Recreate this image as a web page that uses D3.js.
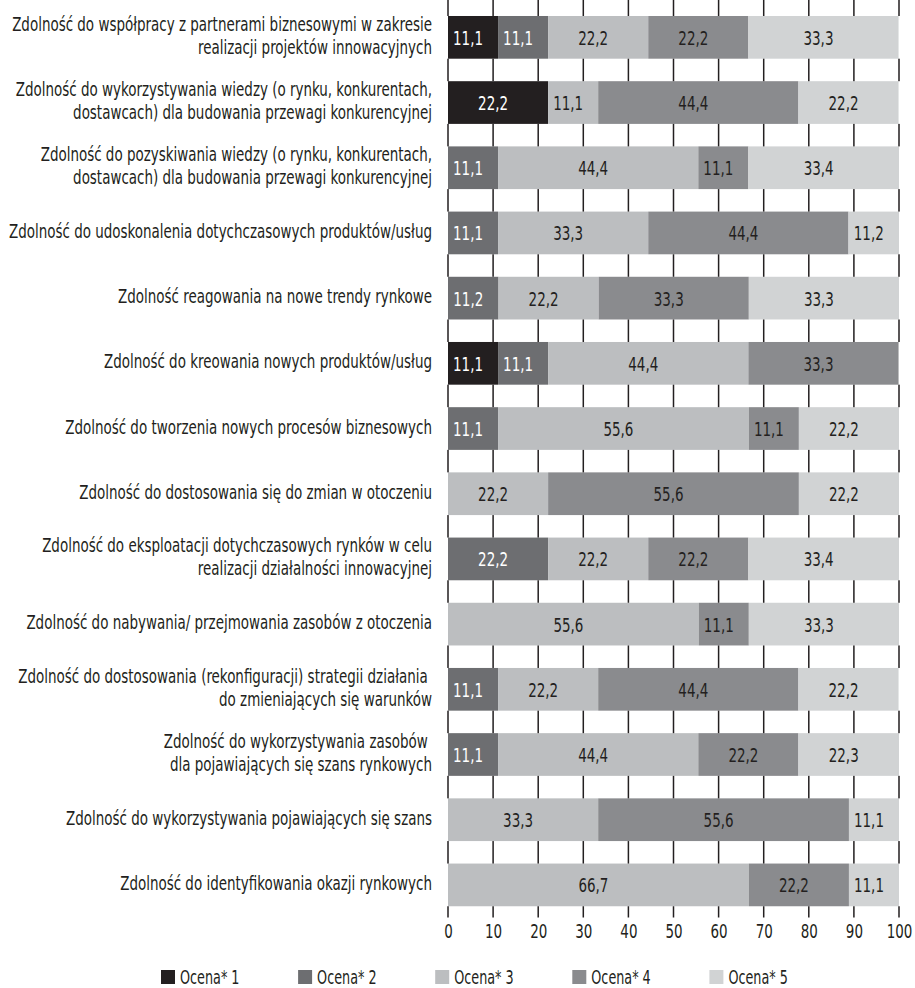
<!DOCTYPE html>
<html>
<head>
<meta charset="utf-8">
<title>Zdolności</title>
<script src="https://d3js.org/d3.v7.min.js"></script>
</head>
<body style="margin:0">
<script>
// categories, top to bottom ("\n" = line break)
var categories = [
  "Zdolność do współpracy z partnerami biznesowymi w zakresie\nrealizacji projektów innowacyjnych",
  "Zdolność do wykorzystywania wiedzy (o rynku, konkurentach,\ndostawcach) dla budowania przewagi konkurencyjnej",
  "Zdolność do pozyskiwania wiedzy (o rynku, konkurentach,\ndostawcach) dla budowania przewagi konkurencyjnej",
  "Zdolność do udoskonalenia dotychczasowych produktów/usług",
  "Zdolność reagowania na nowe trendy rynkowe",
  "Zdolność do kreowania nowych produktów/usług",
  "Zdolność do tworzenia nowych procesów biznesowych",
  "Zdolność do dostosowania się do zmian w otoczeniu",
  "Zdolność do eksploatacji dotychczasowych rynków w celu\nrealizacji działalności innowacyjnej",
  "Zdolność do nabywania/ przejmowania zasobów z otoczenia",
  "Zdolność do dostosowania (rekonfiguracji) strategii działania \ndo zmieniających się warunków",
  "Zdolność do wykorzystywania zasobów \ndla pojawiających się szans rynkowych",
  "Zdolność do wykorzystywania pojawiających się szans",
  "Zdolność do identyfikowania okazji rynkowych"
];

var seriesNames = ["Ocena* 1", "Ocena* 2", "Ocena* 3", "Ocena* 4", "Ocena* 5"];

// one array per series, same order as categories
var ocena1 = [11.1, 22.2, 0, 0, 0, 11.1, 0, 0, 0, 0, 0, 0, 0, 0];
var ocena2 = [11.1, 0, 11.1, 11.1, 11.2, 11.1, 11.1, 0, 22.2, 0, 11.1, 11.1, 0, 0];
var ocena3 = [22.2, 11.1, 44.4, 33.3, 22.2, 44.4, 55.6, 22.2, 22.2, 55.6, 22.2, 44.4, 33.3, 66.7];
var ocena4 = [22.2, 44.4, 11.1, 44.4, 33.3, 33.3, 11.1, 55.6, 22.2, 11.1, 44.4, 22.2, 55.6, 22.2];
var ocena5 = [33.3, 22.2, 33.4, 11.2, 33.3, 0, 22.2, 22.2, 33.4, 33.3, 22.2, 22.3, 11.1, 11.1];

var xTicks = [0, 10, 20, 30, 40, 50, 60, 70, 80, 90, 100];

var colors = ["#231f20", "#6d6e71", "#bcbec0", "#8a8b8e", "#d1d3d4"];
var labelColors = ["#ffffff", "#ffffff", "#231f20", "#231f20", "#231f20"];

var font = '"Liberation Sans Narrow", "DejaVu Sans Condensed", Roboto, sans-serif';

var svg = d3.select("body").append("svg")
    .attr("width", 915)
    .attr("height", 988);

// measure font to squeeze it to the condensed look of the original
var probe = svg.append("text").attr("font-family", font).attr("font-size", 20)
    .text("Zdolność do współpracy z partnerami biznesowymi w zakresie");
var k = 420 / probe.node().getComputedTextLength();
probe.remove();

var x = d3.scaleLinear().domain([0, 100]).range([448, 899]);
var y = d3.scaleBand()
    .domain(d3.range(categories.length))
    .range([4.75, 917.5])
    .paddingInner(0.345)
    .paddingOuter(0.1725);

// stacked data
var rows = categories.map(function(c, i) {
    var vals = [ocena1[i], ocena2[i], ocena3[i], ocena4[i], ocena5[i]];
    var acc = 0;
    return vals.map(function(v, s) {
        var seg = {row: i, s: s, v: v, x0: acc, x1: acc + v};
        acc += v;
        return seg;
    }).filter(function(d) { return d.v > 0; });
});
var segs = [].concat.apply([], rows);

svg.append("g").selectAll("rect")
    .data(segs)
    .enter()
    .append("rect")
    .attr("x", function(d) { return x(d.x0); })
    .attr("y", function(d) { return y(d.row); })
    .attr("width", function(d) { return x(d.x1) - x(d.x0); })
    .attr("height", y.bandwidth())
    .attr("fill", function(d) { return colors[d.s]; });

// gridlines, only in the gaps between bars (thin rects, drawn on top)
var gaps = [{y0: 0, y1: y(0)}];
categories.forEach(function(c, i) {
    var gapStart = y(i) + y.bandwidth();
    var gapEnd = i + 1 < categories.length ? y(i + 1) : 917.5;
    gaps.push({y0: gapStart, y1: gapEnd});
});
var gridCells = [];
xTicks.forEach(function(t) {
    gaps.forEach(function(g) {
        gridCells.push({t: t, y0: g.y0, y1: g.y1});
    });
});
svg.append("g").selectAll("rect")
    .data(gridCells)
    .enter()
    .append("rect")
    .attr("x", function(d) { return x(d.t) - 0.75; })
    .attr("y", function(d) { return d.y0; })
    .attr("width", 1.5)
    .attr("height", function(d) { return d.y1 - d.y0; })
    .attr("fill", "#231f20");

// tick labels
var axis = svg.append("g")
    .attr("transform", "translate(0,917.5)")
    .call(d3.axisBottom(x).tickValues(xTicks).tickSize(0).tickPadding(6).tickFormat(d3.format("d")));
axis.select(".domain").remove();
axis.attr("font-family", font).attr("font-size", 20);
axis.selectAll("text")
    .attr("fill", "#231f20")
    .attr("transform", "scale(" + k + ",1)");

// value labels
svg.append("g").selectAll("text")
    .data(segs)
    .enter()
    .append("text")
    .attr("transform", function(d) {
        return "translate(" + ((x(d.x0) + x(d.x1)) / 2 - 5) + "," + (y(d.row) + y.bandwidth() / 2 + 7.5) + ") scale(" + k + ",1)";
    })
    .attr("text-anchor", "middle")
    .attr("font-family", font)
    .attr("font-size", 20)
    .attr("fill", function(d) { return labelColors[d.s]; })
    .text(function(d) { return d3.format(".1f")(d.v).replace(".", ","); });

// category labels
categories.forEach(function(c, i) {
    var lines = c.split("\n");
    var cy = y(i) + y.bandwidth() / 2;
    lines.forEach(function(line, j) {
        svg.append("text")
            .attr("transform", "translate(432," + (cy + 5 - (lines.length - 1) * 11.5 + j * 23) + ") scale(" + k + ",1)")
            .attr("text-anchor", "end")
            .attr("font-family", font)
            .attr("font-size", 20)
            .attr("fill", "#231f20")
            .style("white-space", "pre")
            .text(line);
    });
});

// legend
var legend = svg.selectAll("g.leg")
    .data(seriesNames)
    .enter()
    .append("g")
    .attr("class", "leg")
    .attr("transform", function(d, i) { return "translate(" + (161 + i * 137.1) + ",970)"; });
legend.append("rect")
    .attr("width", 14)
    .attr("height", 14)
    .attr("fill", function(d, i) { return colors[i]; });
legend.append("text")
    .attr("transform", "translate(19,14) scale(" + k + ",1)")
    .attr("font-family", font)
    .attr("font-size", 19)
    .attr("fill", "#231f20")
    .text(function(d) { return d; });
</script>
</body>
</html>
